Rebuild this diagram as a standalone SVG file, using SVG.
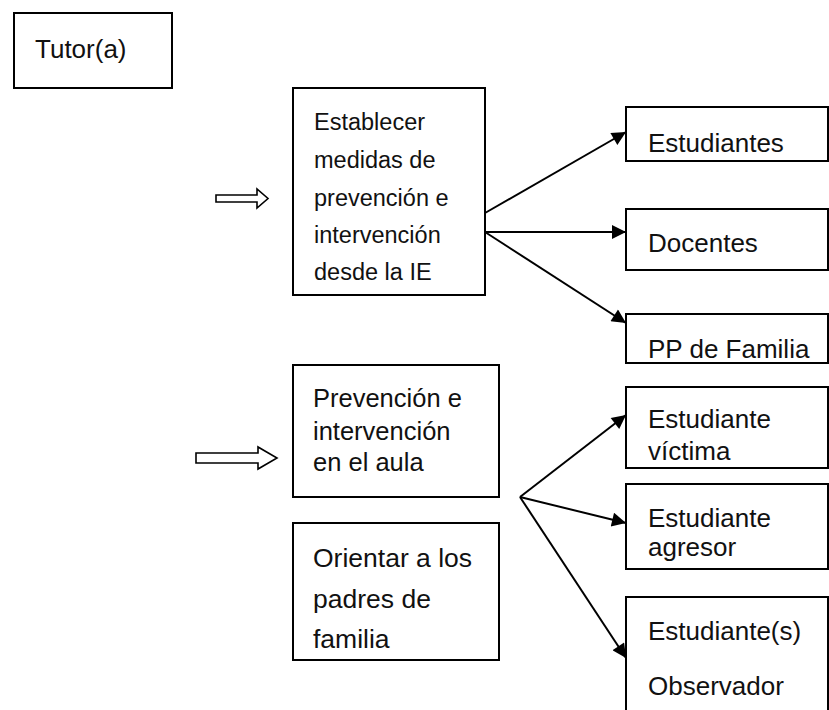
<svg xmlns="http://www.w3.org/2000/svg" width="829" height="710" viewBox="0 0 829 710">
<style>
.box{fill:#fff;stroke:#000;stroke-width:2}
.t{font-family:"Liberation Sans",Arial,sans-serif;fill:#111}
.conn{stroke:#000;stroke-width:2;fill:none}
.hollow{fill:#fff;stroke:#000;stroke-width:1.6}
</style>
<defs>
<marker id="ah" viewBox="0 0 10 10" refX="10" refY="5" markerWidth="18" markerHeight="14" markerUnits="userSpaceOnUse" orient="auto">
<path d="M0,0 L10,5 L0,10 z" fill="#000"/>
</marker>
</defs>
<rect width="829" height="710" fill="#fff"/>
<g id="tutor">
<rect class="box" x="14" y="13" width="158" height="75"/>
<text class="t" x="35" y="58" font-size="26">Tutor(a)</text>
</g>
<g id="establecer">
<rect class="box" x="293" y="88" width="192" height="207"/>
<text class="t" font-size="23.5"><tspan x="314" y="130">Establecer</tspan><tspan x="314" y="168">medidas de</tspan><tspan x="314" y="206">prevención e</tspan><tspan x="314" y="243">intervención</tspan><tspan x="314" y="280">desde la IE</tspan></text>
</g>
<g id="estudiantes">
<rect class="box" x="626" y="107" width="202" height="54"/>
<text class="t" x="648" y="152" font-size="26">Estudiantes</text>
</g>
<g id="docentes">
<rect class="box" x="626" y="209" width="202" height="61"/>
<text class="t" x="648" y="252" font-size="26">Docentes</text>
</g>
<g id="ppfamilia">
<rect class="box" x="626" y="314" width="202" height="49"/>
<text class="t" x="648" y="358" font-size="26">PP de Familia</text>
</g>
<g id="prevencion">
<rect class="box" x="293" y="365" width="206" height="132"/>
<text class="t" font-size="25.5"><tspan x="313" y="407">Prevención e</tspan><tspan x="313" y="440">intervención</tspan><tspan x="313" y="471">en el aula</tspan></text>
</g>
<g id="orientar">
<rect class="box" x="293" y="523" width="206" height="137"/>
<text class="t" font-size="26.5"><tspan x="313" y="567">Orientar a los</tspan><tspan x="313" y="608">padres de</tspan><tspan x="313" y="648">familia</tspan></text>
</g>
<g id="victima">
<rect class="box" x="626" y="387" width="202" height="81"/>
<text class="t" font-size="26"><tspan x="648" y="428">Estudiante</tspan><tspan x="648" y="460">víctima</tspan></text>
</g>
<g id="agresor">
<rect class="box" x="626" y="484" width="202" height="85"/>
<text class="t" font-size="26"><tspan x="648" y="527">Estudiante</tspan><tspan x="648" y="556">agresor</tspan></text>
</g>
<g id="observador">
<rect class="box" x="626" y="597" width="202" height="120"/>
<text class="t" font-size="26"><tspan x="648" y="640">Estudiante(s)</tspan><tspan x="648" y="695">Observador</tspan></text>
</g>
<g id="connectors">
<polygon class="hollow" points="216,195 257,195 257,189 268,198.5 257,208 257,202 216,202"/>
<polygon class="hollow" points="196,453 258,453 258,447 277,458 258,469 258,463 196,463"/>
<line class="conn" x1="485" y1="213" x2="626" y2="132" marker-end="url(#ah)"/>
<line class="conn" x1="485" y1="232" x2="626" y2="232" marker-end="url(#ah)"/>
<line class="conn" x1="485" y1="232" x2="626" y2="323" marker-end="url(#ah)"/>
<line class="conn" x1="520" y1="497" x2="626" y2="415" marker-end="url(#ah)"/>
<line class="conn" x1="520" y1="497" x2="626" y2="523" marker-end="url(#ah)"/>
<line class="conn" x1="520" y1="497" x2="626" y2="658" marker-end="url(#ah)"/>
</g>
</svg>
